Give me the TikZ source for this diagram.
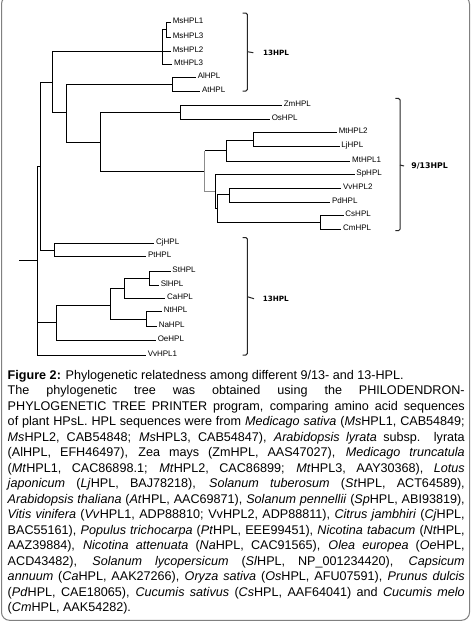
\documentclass[tikz,border=0pt]{standalone}
\usepackage{fontspec}
\setmainfont{Liberation Sans}
\newfontfamily\brfont{DejaVu Sans}
\begin{document}
\begin{tikzpicture}[x=1pt,y=-1pt,line width=0.9pt,
  lab/.style={anchor=west,inner xsep=1.5pt,inner ysep=0pt,text height=5.8pt,text depth=3.3pt,font=\fontsize{8}{9}\selectfont},
  grey/.style={draw=black!45},
  brk/.style={line width=1pt,black!85,rounded corners=1.5pt},
  brlab/.style={anchor=west,inner sep=0pt,font=\brfont\bfseries\fontsize{7.2}{8}\selectfont},
  captxt/.style={anchor=base west,inner sep=0pt,font=\fontsize{12.6}{15.5}\selectfont}]
\useasboundingbox (0,0) rectangle (471,622);
\fill[white] (0,0) rectangle (471,622);
\draw[black!50,line width=1pt,rounded corners=8pt] (1.5,-4) rectangle (469.5,620.3);

% internal nodes
\coordinate (root0) at (19,260);
\coordinate (r) at (37.3,260);
\coordinate (nA) at (40.5,166.3);
\coordinate (nSol) at (56.7,322);
\coordinate (nB) at (52.3,82);
\coordinate (nCP) at (54.3,250.3);
\coordinate (nMs) at (162.3,51.6);
\coordinate (nMs13) at (166,29);
\coordinate (nC) at (66.7,112.7);
\coordinate (nAl) at (172.3,84.3);
\coordinate (nD) at (100.7,142.3);
\coordinate (nZO) at (180.3,112.7);
\coordinate (nE) at (204.8,171.3);
\coordinate (nF) at (226.7,150.5);
\coordinate (nML) at (253.7,140.7);
\coordinate (nG) at (215.5,191.5);
\coordinate (nH) at (217.5,208.3);
\coordinate (nVP) at (229.3,194.3);
\coordinate (nCC) at (320.5,222.3);
\coordinate (nS2) at (110.3,305.3);
\coordinate (nSCa) at (124.3,288);
\coordinate (nSS) at (149.7,278.7);
\coordinate (nNN) at (146.7,319.3);

% leaf labels
\node[lab] (MsHPL1) at (170.8,22.7) {MsHPL1};
\node[lab] (MsHPL3) at (170.8,37.3) {MsHPL3};
\node[lab] (MsHPL2) at (170.8,51.6) {MsHPL2};
\node[lab] (MtHPL3) at (172.2,64) {MtHPL3};
\node[lab] (AlHPL) at (195.8,77.3) {AlHPL};
\node[lab] (AtHPL) at (200.2,91) {AtHPL};
\node[lab] (ZmHPL) at (281.8,105.3) {ZmHPL};
\node[lab] (OsHPL) at (269.8,119) {OsHPL};
\node[lab] (MtHPL2) at (336.8,132.7) {MtHPL2};
\node[lab] (LjHPL) at (339.5,146) {LjHPL};
\node[lab] (MtHPL1) at (350.2,161.3) {MtHPL1};
\node[lab] (SpHPL) at (354.5,174.3) {SpHPL};
\node[lab] (VvHPL2) at (341.2,188.7) {VvHPL2};
\node[lab] (PdHPL) at (330.2,202.3) {PdHPL};
\node[lab] (CsHPL) at (343.5,215.2) {CsHPL};
\node[lab] (CmHPL) at (341.2,229.3) {CmHPL};
\node[lab] (CjHPL) at (154.2,243.3) {CjHPL};
\node[lab] (PtHPL) at (146.2,256.5) {PtHPL};
\node[lab] (StHPL) at (170.5,271.7) {StHPL};
\node[lab] (SlHPL) at (158.8,285.7) {SlHPL};
\node[lab] (CaHPL) at (165.2,298.7) {CaHPL};
\node[lab] (NtHPL) at (161.8,311.3) {NtHPL};
\node[lab] (NaHPL) at (156.8,326.7) {NaHPL};
\node[lab] (OeHPL) at (155.8,340) {OeHPL};
\node[lab] (VvHPL1) at (145.8,355.7) {VvHPL1};

% branches
\draw (root0) -- (r);
\draw (r) |- (nA);
\draw (r) |- (nSol);
\draw (r) |- (VvHPL1.west);
\draw (nA) |- (nB);
\draw (nA) |- (nCP);
\draw (nB) |- (nMs);
\draw (nB) |- (nC);
\draw (nMs) |- (nMs13);
\draw (nMs) |- (MsHPL2.west);
\draw (nMs) |- (MtHPL3.west);
\draw (nMs13) |- (MsHPL1.west);
\draw (nMs13) |- (MsHPL3.west);
\draw (nC) |- (nAl);
\draw (nC) |- (nD);
\draw (nAl) |- (AlHPL.west);
\draw (nAl) |- (AtHPL.west);
\draw (nD) |- (nZO);
\draw (nD) |- (nE);
\draw (nZO) |- (ZmHPL.west);
\draw (nZO) |- (OsHPL.west);
\draw[grey] (nE) -- (nE |- nF);
\draw[grey] (nE) |- (nG);
\draw (nE |- nF) -- (nF);
\draw (nF) |- (nML);
\draw (nF) |- (MtHPL1.west);
\draw (nML) |- (MtHPL2.west);
\draw (nML) |- (LjHPL.west);
\draw (nG) |- (SpHPL.west);
\draw (nG) |- (nH);
\draw (nH) |- (nVP);
\draw (nH) |- (nCC);
\draw (nVP) |- (VvHPL2.west);
\draw (nVP) |- (PdHPL.west);
\draw (nCC) |- (CsHPL.west);
\draw (nCC) |- (CmHPL.west);
\draw (nCP) |- (CjHPL.west);
\draw (nCP) |- (PtHPL.west);
\draw (nSol) |- (nS2);
\draw (nSol) |- (OeHPL.west);
\draw (nS2) |- (nSCa);
\draw (nS2) |- (nNN);
\draw (nSCa) |- (nSS);
\draw (nSCa) |- (CaHPL.west);
\draw (nSS) |- (StHPL.west);
\draw (nSS) |- (SlHPL.west);
\draw (nNN) |- (NtHPL.west);
\draw (nNN) |- (NaHPL.west);

% brackets
\coordinate (b1t) at (242.7,13); \coordinate (b1b) at (242.7,91); \coordinate (b1m) at (247.3,51.7);
\draw[brk] (b1t) -| (b1m) |- (b1b);
\node[brlab] (g1) at (262.7,52.7) {13HPL};
\draw[line width=1pt,black!85] (b1m) -- (g1.west -| 253.3,0);
\coordinate (b2t) at (395.3,98.3); \coordinate (b2b) at (395.3,230.7); \coordinate (b2m) at (400,165);
\draw[brk] (b2t) -| (b2m) |- (b2b);
\node[brlab,font=\brfont\bfseries\fontsize{7.8}{9}\selectfont] (g2) at (411,166) {9/13HPL};
\draw[line width=1pt,black!85] (b2m) -- (g2.west -| 404,0);
\coordinate (b3t) at (242.7,237.5); \coordinate (b3b) at (242.7,355); \coordinate (b3m) at (247.3,296.7);
\draw[brk] (b3t) -| (b3m) |- (b3b);
\node[brlab] (g3) at (262.3,298.7) {13HPL};
\draw[line width=1pt,black!85] (b3m) -- (g3.west -| 254,0);

% caption
\node[captxt] (c1) at (7.3,379) {\textbf{Figure 2:} Phylogenetic relatedness among different 9/13- and 13-HPL.};
\node[captxt] (c2) at (7.3,394.5) {\makebox[457pt][s]{The phylogenetic tree was obtained using the PHILODENDRON-}};
\node[captxt] (c3) at (7.3,410) {\makebox[457pt][s]{PHYLOGENETIC TREE PRINTER program, comparing amino acid sequences}};
\node[captxt] (c4) at (7.3,425.5) {\makebox[457pt][s]{of plant HPsL. HPL sequences were from \textit{Medicago sativa} (\textit{Ms}HPL1, CAB54849;}};
\node[captxt] (c5) at (7.3,441) {\makebox[457pt][s]{\textit{Ms}HPL2, CAB54848; \textit{Ms}HPL3, CAB54847), \textit{Arabidopsis lyrata} subsp. lyrata}};
\node[captxt] (c6) at (7.3,456.5) {\makebox[457pt][s]{(AlHPL, EFH46497), Zea mays (ZmHPL, AAS47027), \textit{Medicago truncatula}}};
\node[captxt] (c7) at (7.3,472) {\makebox[457pt][s]{(\textit{Mt}HPL1, CAC86898.1; \textit{Mt}HPL2, CAC86899; \textit{Mt}HPL3, AAY30368), \textit{Lotus}}};
\node[captxt] (c8) at (7.3,487.5) {\makebox[457pt][s]{\textit{japonicum} (\textit{Lj}HPL, BAJ78218), \textit{Solanum tuberosum} (\textit{St}HPL, ACT64589),}};
\node[captxt] (c9) at (7.3,503) {\makebox[457pt][s]{\textit{Arabidopsis thaliana} (\textit{At}HPL, AAC69871), \textit{Solanum pennellii} (\textit{Sp}HPL, ABI93819),}};
\node[captxt] (c10) at (7.3,518.5) {\makebox[457pt][s]{\textit{Vitis vinifera} (\textit{Vv}HPL1, ADP88810; VvHPL2, ADP88811), \textit{Citrus jambhiri} (\textit{Cj}HPL,}};
\node[captxt] (c11) at (7.3,534) {\makebox[457pt][s]{BAC55161), \textit{Populus trichocarpa} (\textit{Pt}HPL, EEE99451), \textit{Nicotina tabacum} (\textit{Nt}HPL,}};
\node[captxt] (c12) at (7.3,549.5) {\makebox[457pt][s]{AAZ39884), \textit{Nicotina attenuata} (\textit{Na}HPL, CAC91565), \textit{Olea europea} (\textit{Oe}HPL,}};
\node[captxt] (c13) at (7.3,565) {\makebox[457pt][s]{ACD43482), \textit{Solanum lycopersicum} (\textit{Sl}HPL, NP\_001234420), \textit{Capsicum}}};
\node[captxt] (c14) at (7.3,580.5) {\makebox[457pt][s]{\textit{annuum} (\textit{Ca}HPL, AAK27266), \textit{Oryza sativa} (\textit{Os}HPL, AFU07591), \textit{Prunus dulcis}}};
\node[captxt] (c15) at (7.3,596) {\makebox[457pt][s]{(\textit{Pd}HPL, CAE18065), \textit{Cucumis sativus} (\textit{Cs}HPL, AAF64041) and \textit{Cucumis melo}}};
\node[captxt] (c16) at (7.3,611.5) {(\textit{Cm}HPL, AAK54282).};
\end{tikzpicture}
\end{document}
